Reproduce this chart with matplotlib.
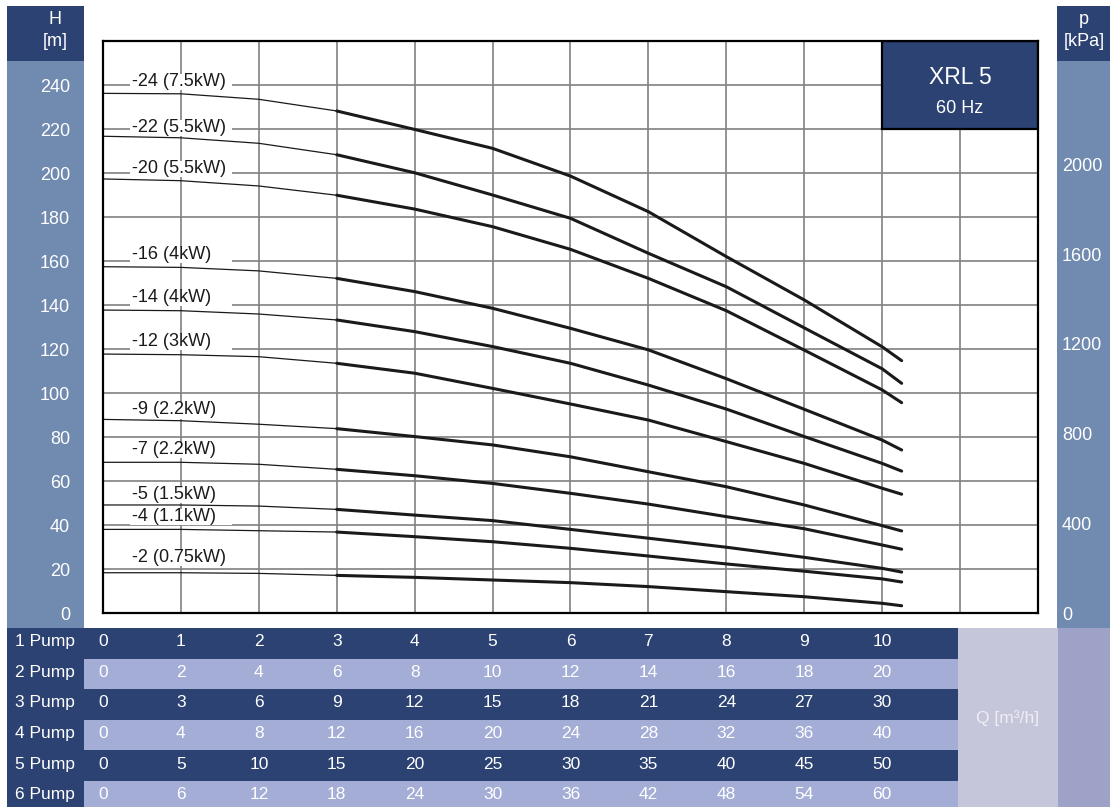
import numpy as np
import matplotlib
matplotlib.use('Agg')
import matplotlib.pyplot as plt
from matplotlib.patches import Rectangle

plt.rcParams['font.family'] = ['Liberation Sans', 'DejaVu Sans']

# curve data, Q [m3/h] for 1 pump, H [m]
q = [0, 1, 2, 3, 4, 5, 6, 7, 8, 9, 10, 10.25]
h24 = [236.2, 236.0, 233.5, 228.2, 219.8, 211.2, 198.6, 182.4, 162.0, 142.3, 121.0, 114.7]
h22 = [216.7, 216.0, 213.5, 208.3, 200.1, 190.0, 179.4, 163.5, 148.3, 129.6, 111.0, 104.4]
h20 = [197.3, 196.5, 194.1, 189.9, 183.6, 175.6, 165.3, 152.1, 137.4, 119.5, 101.4, 95.6]
h16 = [157.4, 157.1, 155.5, 152.1, 146.1, 138.5, 129.4, 119.6, 106.5, 92.6, 78.6, 74.1]
h14 = [137.7, 137.4, 135.9, 133.2, 127.9, 121.1, 113.5, 103.6, 92.7, 80.2, 68.0, 64.5]
h12 = [117.7, 117.4, 116.5, 113.5, 109.0, 102.1, 95.0, 87.7, 77.9, 68.0, 56.7, 54.0]
h9 = [88.0, 87.4, 85.8, 83.8, 80.2, 76.4, 71.0, 64.2, 57.4, 49.1, 39.7, 37.3]
h7 = [68.5, 68.5, 67.6, 65.3, 62.4, 58.9, 54.4, 49.5, 43.8, 38.3, 30.9, 29.0]
h5 = [49.1, 49.1, 48.6, 47.1, 44.5, 42.0, 38.0, 34.0, 29.9, 25.3, 20.3, 18.6]
h4 = [38.0, 38.0, 37.4, 36.8, 34.7, 32.4, 29.4, 25.9, 22.3, 19.0, 15.5, 14.1]
h2 = [18.3, 18.3, 18.0, 17.1, 16.2, 15.0, 13.8, 12.0, 9.7, 7.4, 4.4, 3.3]
curves = [h24, h22, h20, h16, h14, h12, h9, h7, h5, h4, h2]

stage_labels = ['-24 (7.5kW)', '-22 (5.5kW)', '-20 (5.5kW)', '-16 (4kW)', '-14 (4kW)',
                '-12 (3kW)', '-9 (2.2kW)', '-7 (2.2kW)', '-5 (1.5kW)', '-4 (1.1kW)',
                '-2 (0.75kW)']
label_h = [241.8, 220.7, 202.0, 163.1, 143.6, 123.6, 92.3, 74.4, 54.0, 43.8, 25.2]

h_ticks = list(range(0, 241, 20))
p_ticks = [0, 400, 800, 1200, 1600, 2000]

pump_names = ['1 Pump', '2 Pump', '3 Pump', '4 Pump', '5 Pump', '6 Pump']
flow_1 = [0, 1, 2, 3, 4, 5, 6, 7, 8, 9, 10]
flow_2 = [0, 2, 4, 6, 8, 10, 12, 14, 16, 18, 20]
flow_3 = [0, 3, 6, 9, 12, 15, 18, 21, 24, 27, 30]
flow_4 = [0, 4, 8, 12, 16, 20, 24, 28, 32, 36, 40]
flow_5 = [0, 5, 10, 15, 20, 25, 30, 35, 40, 45, 50]
flow_6 = [0, 6, 12, 18, 24, 30, 36, 42, 48, 54, 60]
flows = [flow_1, flow_2, flow_3, flow_4, flow_5, flow_6]

# colours
NAVY = '#2c4272'
PANEL = '#718ab0'
ROWLIGHT = '#a3add6'
QBOX = '#c5c6da'
QSIDE = '#9ea2c7'

# layout in pixels
W, H = 1112, 807
L, R, T, B = 103, 1038, 41, 613
QMAX, HMAX = 12, 260

fig = plt.figure(figsize=(W / 100, H / 100), dpi=100)


def frac_rect(x0, y0, x1, y1, color):
    fig.add_artist(Rectangle((x0 / W, 1 - y1 / H), (x1 - x0) / W, (y1 - y0) / H,
                             transform=fig.transFigure, facecolor=color,
                             edgecolor='none', zorder=0))


# side panels
frac_rect(7, 6, 84, 61, NAVY)
frac_rect(7, 61, 84, 628, PANEL)
frac_rect(1057, 6, 1110, 61, NAVY)
frac_rect(1057, 61, 1110, 628, PANEL)
frac_rect(958, 628, 1058, 807, QBOX)
frac_rect(1058, 628, 1110, 807, QSIDE)

fig.text(55 / W, 1 - 20 / H, 'H', color='white', fontsize=13, ha='center', va='center')
fig.text(55 / W, 1 - 42 / H, '[m]', color='white', fontsize=13, ha='center', va='center')
fig.text(1084 / W, 1 - 19 / H, 'p', color='white', fontsize=13, ha='center', va='center')
fig.text(1084 / W, 1 - 41 / H, '[kPa]', color='white', fontsize=13, ha='center', va='center')
fig.text(1008 / W, 1 - 718 / H, 'Q [m³/h]', color='#eeeef4', fontsize=12.5,
         ha='center', va='center')

# main chart
ax = fig.add_axes([L / W, 1 - B / H, (R - L) / W, (B - T) / H])
ax.set_xlim(0, QMAX)
ax.set_ylim(0, HMAX)
ax.set_xticks(range(0, QMAX + 1))
ax.set_xticklabels([])
ax.set_yticks(h_ticks)
ax.tick_params(axis='x', length=0)
ax.tick_params(axis='y', length=0, pad=23.8, labelcolor='white', labelsize=13)
ax.grid(True, color='#808080', lw=1.2, zorder=1)
ax.set_axisbelow(True)
for s in ax.spines.values():
    s.set_linewidth(1.6)
    s.set_color('black')
    s.set_zorder(6)

for hv in curves:
    ax.plot(q[:4], hv[:4], color='#1a1a1a', lw=0.9, zorder=4)
    ax.plot(q[3:], hv[3:], color='#1a1a1a', lw=2.2, zorder=4,
            solid_capstyle='round', solid_joinstyle='round')

for lab, hl in zip(stage_labels, label_h):
    ax.add_patch(Rectangle((0.35, hl - 4.0), 1.31, 7.4, facecolor='white',
                           edgecolor='none', zorder=2))
    ax.text(0.37, hl, lab, fontsize=13, color='#1a1a1a', ha='left', va='center', zorder=3)

# title box
ax.add_patch(Rectangle((10, 220), 2, 40, facecolor=NAVY, edgecolor='black', lw=1.6, zorder=5))
ax.text(11, 243.6, 'XRL 5', color='white', fontsize=16.5, ha='center', va='center', zorder=6)
ax.text(11, 229.5, '60 Hz', color='white', fontsize=13, ha='center', va='center', zorder=6)

# pressure axis
ax2 = ax.twinx()
ax2.set_ylim(0, HMAX * 9.81)
ax2.set_yticks(p_ticks)
ax2.tick_params(axis='y', length=0, pad=17.3, labelcolor='white', labelsize=13)
for s in ax2.spines.values():
    s.set_visible(False)

# flow table, x scale shared with the chart
k = QMAX / (R - L)
row_h = 30.6
tab = fig.add_axes([7 / W, 1 - (628 + 6 * row_h) / H, (958 - 7) / W, 6 * row_h / H])
tab.set_xlim((7 - L) * k, (958 - L) * k)
tab.set_ylim(6, 0)
tab.axis('off')
x0, x1 = tab.get_xlim()
x_lab_end = (84 - L) * k
for i, (name, vals) in enumerate(zip(pump_names, flows)):
    col = NAVY if i % 2 == 0 else ROWLIGHT
    tab.add_patch(Rectangle((x0, i), x1 - x0, 1, facecolor=col, edgecolor='none'))
    tab.add_patch(Rectangle((x0, i), x_lab_end - x0, 1, facecolor=NAVY, edgecolor='none'))
    tab.text((45 - L) * k, i + 0.45, name, color='white', fontsize=12.5, ha='center', va='center')
    for qx, v in zip(flow_1, vals):
        tab.text(qx, i + 0.45, str(v), color='white', fontsize=12.5, ha='center', va='center')

fig.savefig('out.png', dpi=100)
